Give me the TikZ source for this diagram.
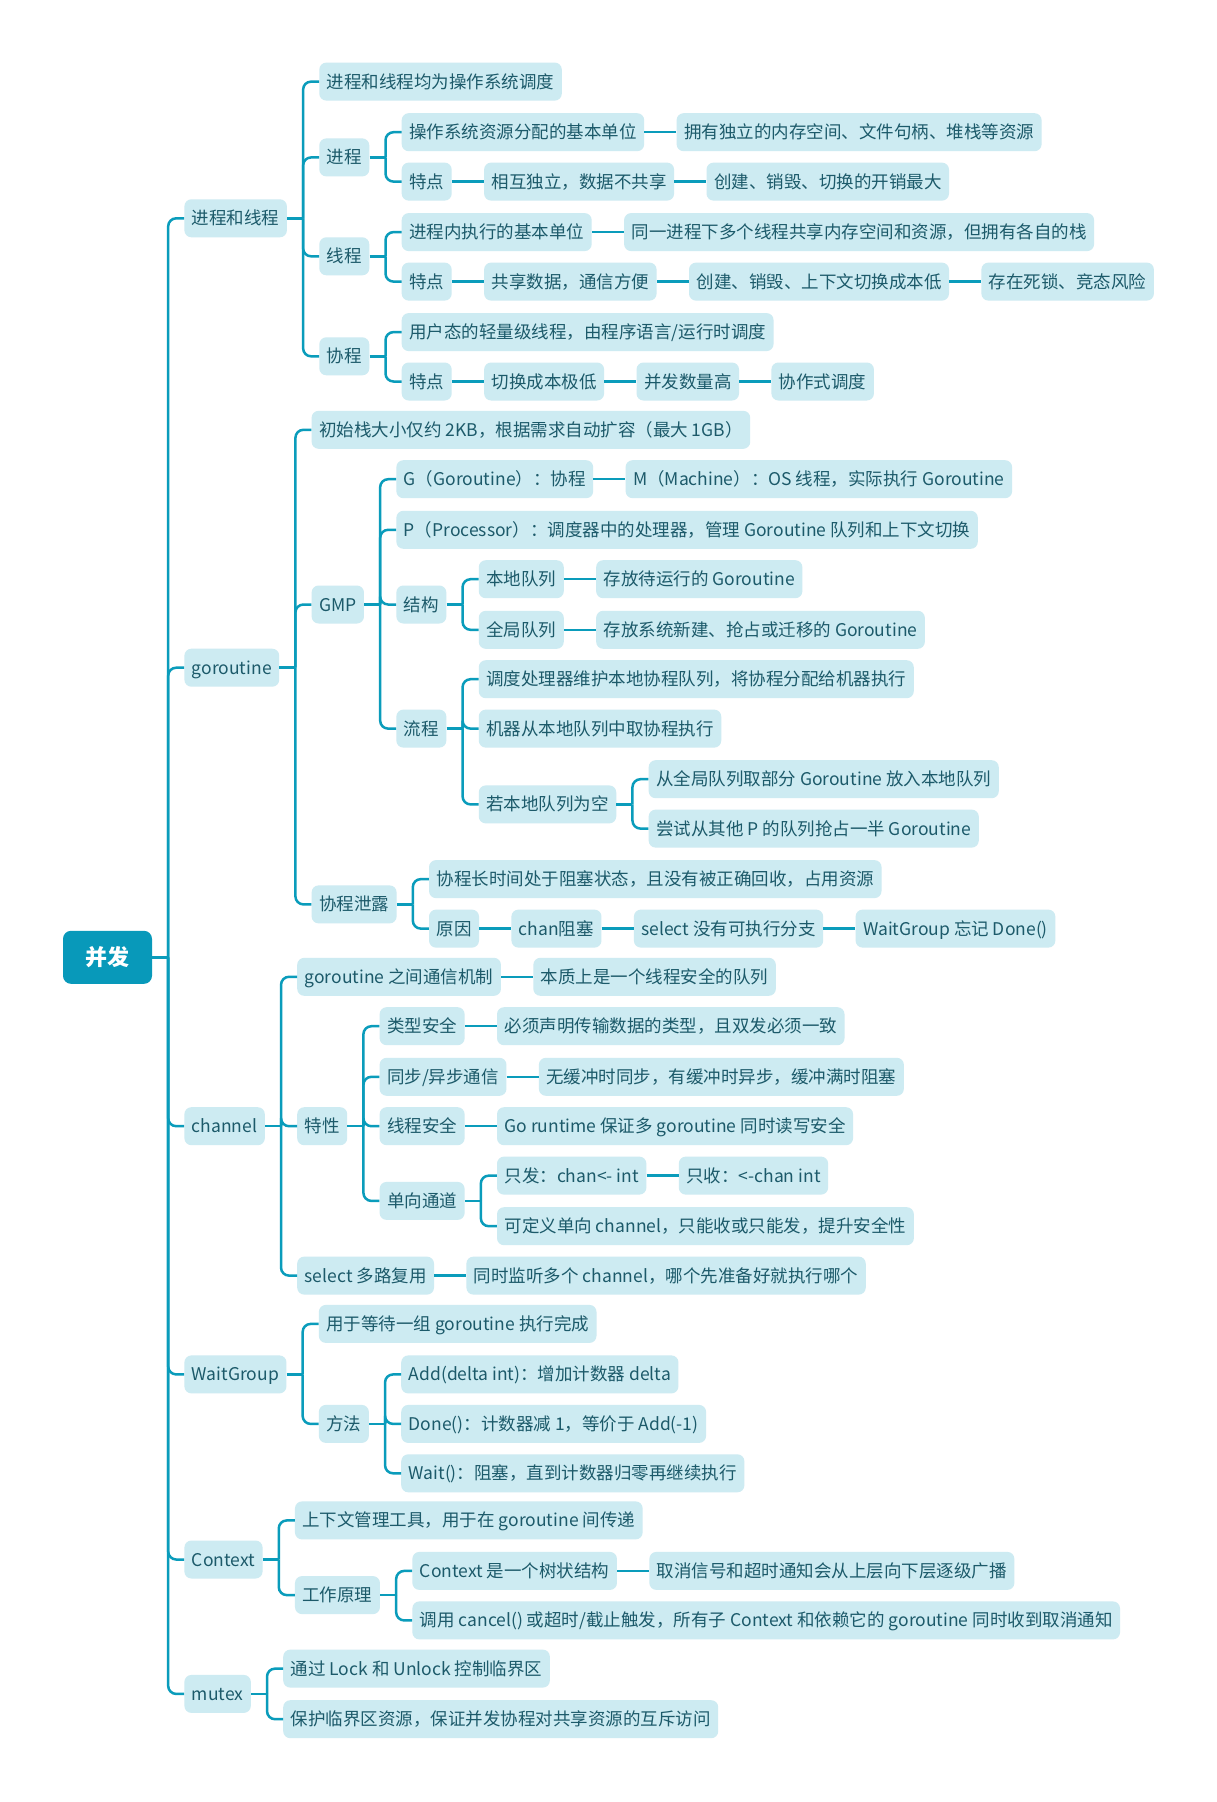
\documentclass[tikz,border=0pt]{standalone}
\usepackage{fontspec}
\setmainfont{Noto Sans CJK SC}
\usetikzlibrary{positioning,calc}
\definecolor{boxfill}{RGB}{205,235,242}
\definecolor{linec}{RGB}{10,156,187}
\definecolor{txt}{RGB}{28,90,106}
\definecolor{rootfill}{RGB}{8,153,186}
\newcommand\mkid[4]{\path let \p1=(#2.east) in node[box,anchor=west] (#1) at (\x1+32pt,-#3pt) {#4};}
\newcommand\mnxt[3]{\node[box,right=32pt of #1] (#2) {#3}; \draw[conn] (#1.east) -- (#2.west);}
\newcommand\mfork[2]{%
  \draw[conn] (#1.east) -- ++(16pt,0) coordinate (T#1);
  \foreach \c in {#2}{\draw[conn] (T#1) |- (\c.west);}}
\begin{document}
\begin{tikzpicture}[x=1pt,y=1pt,
 box/.style={fill=boxfill, rounded corners=7pt, text=txt, font=\fontsize{17.5pt}{20pt}\selectfont, inner xsep=7.5pt, inner ysep=0pt, minimum height=38pt, text height=15pt, text depth=2pt},
 rootbox/.style={fill=rootfill, rounded corners=8pt, text=white, font=\fontsize{22pt}{26pt}\selectfont\bfseries, minimum width=89pt, minimum height=53pt, inner sep=0pt},
 conn/.style={draw=linec, line width=2.5pt, rounded corners=8pt}]
\useasboundingbox[fill=white] (0,0) rectangle (1217,-1802);

\node[rootbox] (root) at (107.5,-957.3) {并发};
\mkid{a}{root}{218.3}{进程和线程}
\mkid{b}{root}{667.7}{goroutine}
\mkid{c}{root}{1126.2}{channel}
\mkid{d}{root}{1374.4}{WaitGroup}
\mkid{e}{root}{1559.5}{Context}
\mkid{f}{root}{1693.9}{mutex}
\mfork{root}{a,b,c,d,e,f}

\mkid{a1}{a}{81.6}{进程和线程均为操作系统调度}
\mkid{a2}{a}{157.4}{进程}
\mkid{a3}{a}{256.3}{线程}
\mkid{a4}{a}{356.3}{协程}
\mfork{a}{a1,a2,a3,a4}

\mkid{a21}{a2}{132.2}{操作系统资源分配的基本单位}
\mnxt{a21}{a211}{拥有独立的内存空间、文件句柄、堆栈等资源}
\mkid{a22}{a2}{181.6}{特点}
\mnxt{a22}{a221}{相互独立，数据不共享}
\mnxt{a221}{a222}{创建、销毁、切换的开销最大}
\mfork{a2}{a21,a22}

\mkid{a31}{a3}{232.1}{进程内执行的基本单位}
\mnxt{a31}{a311}{同一进程下多个线程共享内存空间和资源，但拥有各自的栈}
\mkid{a32}{a3}{281.6}{特点}
\mnxt{a32}{a321}{共享数据，通信方便}
\mnxt{a321}{a322}{创建、销毁、上下文切换成本低}
\mnxt{a322}{a323}{存在死锁、竞态风险}
\mfork{a3}{a31,a32}

\mkid{a41}{a4}{332.1}{用户态的轻量级线程，由程序语言/运行时调度}
\mkid{a42}{a4}{381.5}{特点}
\mnxt{a42}{a421}{切换成本极低}
\mnxt{a421}{a422}{并发数量高}
\mnxt{a422}{a423}{协作式调度}
\mfork{a4}{a41,a42}

\mkid{b1}{b}{429.8}{初始栈大小仅约 2KB，根据需求自动扩容（最大 1GB）}
\mkid{b2}{b}{604.5}{GMP}
\mkid{b3}{b}{904.4}{协程泄露}
\mfork{b}{b1,b2,b3}

\mkid{b21}{b2}{479.2}{G（Goroutine）：协程}
\mnxt{b21}{b211}{M（Machine）：OS 线程，实际执行 Goroutine}
\mkid{b22}{b2}{529.8}{P（Processor）：调度器中的处理器，管理 Goroutine 队列和上下文切换}
\mkid{b23}{b2}{604.5}{结构}
\mkid{b24}{b2}{728.6}{流程}
\mfork{b2}{b21,b22,b23,b24}

\mkid{b231}{b23}{579.2}{本地队列}
\mnxt{b231}{b2311}{存放待运行的 Goroutine}
\mkid{b232}{b23}{629.8}{全局队列}
\mnxt{b232}{b2321}{存放系统新建、抢占或迁移的 Goroutine}
\mfork{b23}{b231,b232}

\mkid{b241}{b24}{679.2}{调度处理器维护本地协程队列，将协程分配给机器执行}
\mkid{b242}{b24}{728.6}{机器从本地队列中取协程执行}
\mkid{b243}{b24}{804.4}{若本地队列为空}
\mfork{b24}{b241,b242,b243}
\mkid{b2431}{b243}{779.2}{从全局队列取部分 Goroutine 放入本地队列}
\mkid{b2432}{b243}{828.6}{尝试从其他 P 的队列抢占一半 Goroutine}
\mfork{b243}{b2431,b2432}

\mkid{b31}{b3}{879.1}{协程长时间处于阻塞状态，且没有被正确回收，占用资源}
\mkid{b32}{b3}{928.6}{原因}
\mnxt{b32}{b321}{chan阻塞}
\mnxt{b321}{b322}{select 没有可执行分支}
\mnxt{b322}{b323}{WaitGroup 忘记 Done()}
\mfork{b3}{b31,b32}

\mkid{c1}{c}{976.8}{goroutine 之间通信机制}
\mnxt{c1}{c11}{本质上是一个线程安全的队列}
\mkid{c2}{c}{1126.2}{特性}
\mkid{c3}{c}{1275.6}{select 多路复用}
\mnxt{c3}{c31}{同时监听多个 channel，哪个先准备好就执行哪个}
\mfork{c}{c1,c2,c3}

\mkid{c21}{c2}{1026.2}{类型安全}
\mnxt{c21}{c211}{必须声明传输数据的类型，且双发必须一致}
\mkid{c22}{c2}{1076.8}{同步/异步通信}
\mnxt{c22}{c221}{无缓冲时同步，有缓冲时异步，缓冲满时阻塞}
\mkid{c23}{c2}{1126.2}{线程安全}
\mnxt{c23}{c231}{Go runtime 保证多 goroutine 同时读写安全}
\mkid{c24}{c2}{1200.9}{单向通道}
\mfork{c2}{c21,c22,c23,c24}
\mkid{c241}{c24}{1175.6}{只发：chan<- int}
\mnxt{c241}{c2411}{只收：<-chan int}
\mkid{c242}{c24}{1226.2}{可定义单向 channel，只能收或只能发，提升安全性}
\mfork{c24}{c241,c242}

\mkid{d1}{d}{1323.9}{用于等待一组 goroutine 执行完成}
\mkid{d2}{d}{1423.9}{方法}
\mfork{d}{d1,d2}
\mkid{d21}{d2}{1374.4}{Add(delta int)：增加计数器 delta}
\mkid{d22}{d2}{1423.9}{Done()：计数器减 1，等价于 Add(-1)}
\mkid{d23}{d2}{1473.3}{Wait()：阻塞，直到计数器归零再继续执行}
\mfork{d2}{d21,d22,d23}

\mkid{e1}{e}{1520.4}{上下文管理工具，用于在 goroutine 间传递}
\mkid{e2}{e}{1595.1}{工作原理}
\mfork{e}{e1,e2}
\mkid{e21}{e2}{1570.9}{Context 是一个树状结构}
\mnxt{e21}{e211}{取消信号和超时通知会从上层向下层逐级广播}
\mkid{e22}{e2}{1620.4}{调用 cancel() 或超时/截止触发，所有子 Context 和依赖它的 goroutine 同时收到取消通知}
\mfork{e2}{e21,e22}

\mkid{f1}{f}{1668.6}{通过 Lock 和 Unlock 控制临界区}
\mkid{f2}{f}{1719.2}{保护临界区资源，保证并发协程对共享资源的互斥访问}
\mfork{f}{f1,f2}
\end{tikzpicture}
\end{document}
